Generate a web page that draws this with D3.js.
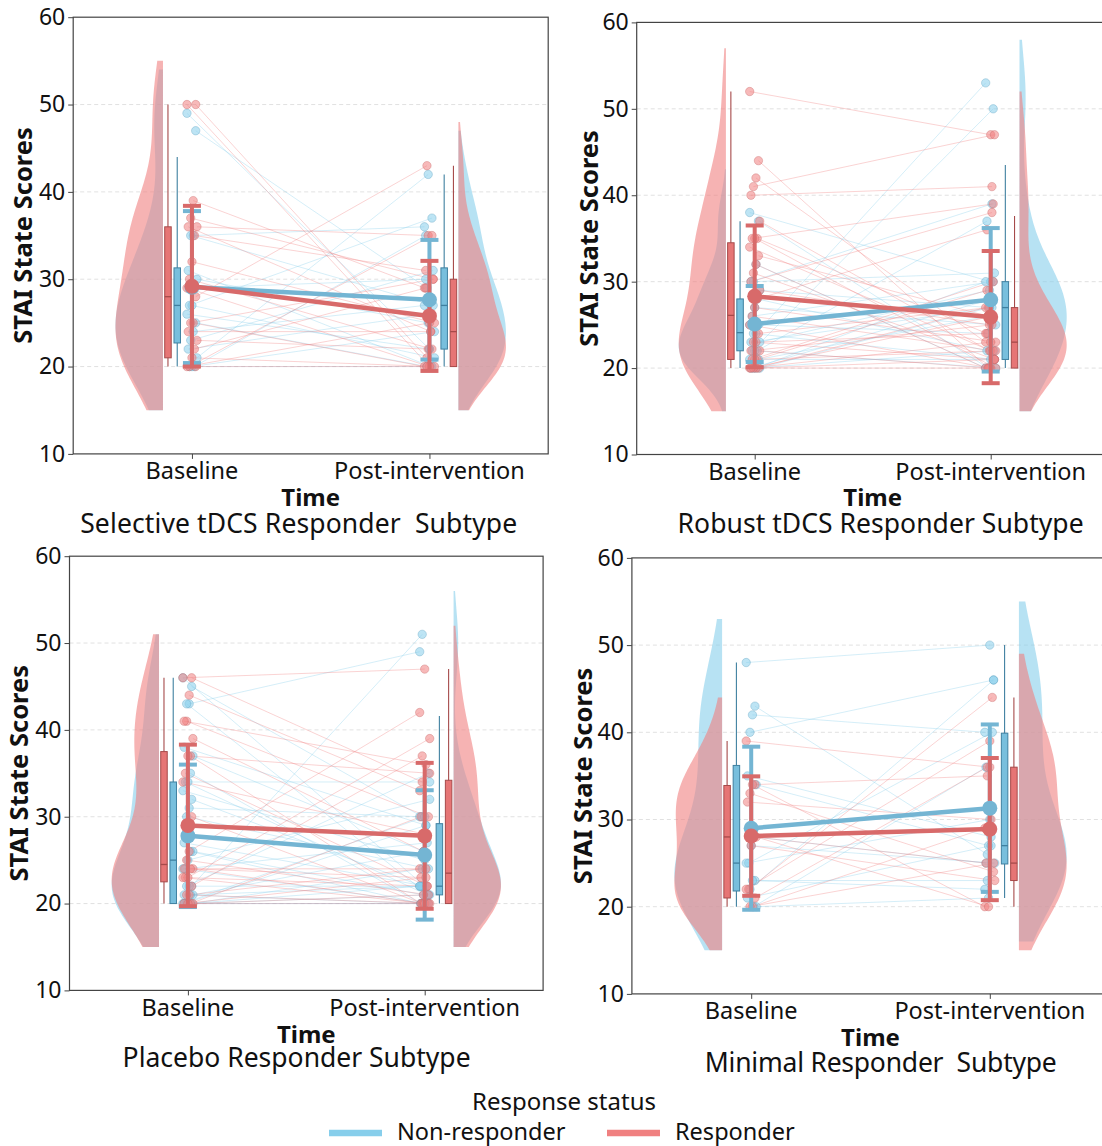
<!DOCTYPE html>
<html>
<head>
<meta charset="utf-8">
<script src="https://cdn.jsdelivr.net/npm/d3@7"></script>
<style>
  body { margin: 0; background: #fff; }
  text { font-family: "Noto Sans", sans-serif; fill: #111; }
</style>
</head>
<body>
<svg id="chart" width="1102" height="1146"></svg>
<script>
// ---- data ----
var timepoints = ["Baseline", "Post-intervention"];
var groups = ["Non-responder", "Responder"];
var panelTitles = ["Selective tDCS Responder  Subtype", "Robust tDCS Responder Subtype",
                   "Placebo Responder Subtype", "Minimal Responder  Subtype"];
var yTicks = [10, 20, 30, 40, 50, 60];
var gridTicks = [20, 30, 40, 50];

// subject scores (baseline / post), index i is the same subject
var selNonBase  = [49, 47, 35, 35, 31, 30, 29, 27, 27, 26, 25, 24, 23, 22, 21, 20, 20, 20];
var selNonPost  = [22, 29, 36, 27, 20, 25, 30, 21, 37, 22, 20, 27, 31, 26, 42, 35, 24, 20];
var selRespBase = [50, 50, 39, 37, 36, 36, 35, 32, 30, 29, 28, 25, 25, 24, 23, 22, 21, 20, 20, 20];
var selRespPost = [20, 21, 29, 30, 24, 35, 31, 25, 22, 20, 43, 20, 30, 24, 22, 29, 20, 35, 25, 20];

var robNonBase  = [38, 37, 32, 30, 30, 29, 28, 27, 26, 25, 25, 24, 24, 23, 23, 22, 22, 22, 21, 21, 20, 20, 20, 20];
var robNonPost  = [30, 20, 20, 31, 39, 27, 22, 25, 30, 28, 24, 53, 21, 27, 29, 37, 20, 50, 21, 26, 30, 22, 28, 27];
var robRespBase = [52, 44, 42, 41, 40, 37, 35, 35, 35, 34, 33, 32, 31, 30, 29, 28, 27, 26, 25, 24, 23, 23, 22, 22,
                   21, 21, 21, 20, 20, 20, 20, 20];
var robRespPost = [47, 20, 23, 47, 41, 22, 24, 20, 39, 22, 26, 20, 21, 38, 25, 36, 23, 22, 20, 27, 24, 21, 25, 20,
                   29, 22, 30, 23, 20, 27, 21, 26];

var plaNonBase  = [46, 45, 43, 43, 38, 37, 35, 34, 34, 33, 32, 31, 30, 27, 26, 26, 25, 24, 24, 22, 22, 22, 21, 21,
                   21, 20, 20, 20, 20, 20, 20, 20];
var plaNonPost  = [22, 30, 49, 21, 29, 26, 20, 34, 21, 25, 22, 30, 24, 22, 21, 20, 32, 27, 20, 51, 22, 35, 20, 26,
                   22, 21, 20, 30, 24, 22, 20, 29];
var plaRespBase = [46, 46, 44, 41, 41, 39, 37, 37, 35, 34, 30, 26, 25, 24, 24, 24, 23, 23, 23, 22, 21, 21, 20, 20, 20, 20];
var plaRespPost = [47, 34, 33, 30, 36, 26, 20, 35, 22, 28, 20, 42, 21, 24, 20, 23, 39, 22, 20, 37, 24, 20, 23, 21, 30, 20];

var minNonBase  = [48, 43, 42, 40, 35, 34, 28, 27, 25, 25, 23, 23, 22, 21, 20, 20];
var minNonPost  = [50, 26, 40, 46, 28, 27, 25, 25, 40, 30, 23, 22, 46, 27, 21, 36];
var minRespBase = [39, 34, 34, 33, 32, 28, 28, 27, 22, 22, 21, 20, 20];
var minRespPost = [36, 35, 20, 24, 30, 20, 25, 23, 44, 39, 36, 29, 25];

// box summaries per time: [q1, median, q3, whiskerLow, whiskerHigh]
var selNonBox  = [[22.7, 27, 31.3, 20, 44], [22, 27, 31.3, 20, 42]];
var selRespBox = [[21, 28, 36, 20, 50], [20, 24, 30, 20, 43]];
var robNonBox  = [[22, 24.1, 28, 20, 37], [21, 27, 30, 20, 43.5]];
var robRespBox = [[21, 26.1, 34.5, 20, 52], [20, 23, 27, 20, 37.6]];
var plaNonBox  = [[20, 25, 34, 20, 46], [21, 22, 29.2, 20, 41.6]];
var plaRespBox = [[22.5, 24.5, 37.5, 20, 46], [20, 23.5, 34.2, 20, 47]];
var minNonBox  = [[21.8, 25, 36.2, 20, 48], [24.9, 27, 39.9, 21, 50]];
var minRespBox = [[21, 28, 33.9, 20, 39], [23, 25, 36, 20, 44]];

// group means and standard deviations per time
var selNonMean = [29.1, 27.65], selNonSD = [8.7, 6.85];
var selRespMean = [29.2, 25.8], selRespSD = [9.2, 6.3];
var robNonMean = [25.1, 27.9], robNonSD = [4.4, 8.3];
var robRespMean = [28.3, 25.9], robRespSD = [8.2, 7.65];
var plaNonMean = [27.8, 25.6], plaNonSD = [8.2, 7.45];
var plaRespMean = [29.0, 27.8], plaRespSD = [9.3, 8.4];
var minNonMean = [29.0, 31.3], minNonSD = [9.35, 9.6];
var minRespMean = [28.1, 28.9], minRespSD = [6.85, 8.15];

var panels = [
  { non: [selNonBase, selNonPost, selNonBox, selNonMean, selNonSD],
    resp: [selRespBase, selRespPost, selRespBox, selRespMean, selRespSD] },
  { non: [robNonBase, robNonPost, robNonBox, robNonMean, robNonSD],
    resp: [robRespBase, robRespPost, robRespBox, robRespMean, robRespSD] },
  { non: [plaNonBase, plaNonPost, plaNonBox, plaNonMean, plaNonSD],
    resp: [plaRespBase, plaRespPost, plaRespBox, plaRespMean, plaRespSD] },
  { non: [minNonBase, minNonPost, minNonBox, minNonMean, minNonSD],
    resp: [minRespBase, minRespPost, minRespBox, minRespMean, minRespSD] }
];

// ---- layout ----
var layout = [
  { left: 73.2, top: 17.2, bottom: 453.9, unit: 237.5, ylabX: 22, tickY: 470, timeY: 496, titleX: 298.7, titleY: 523, titleW: 437 },
  { left: 636.7, top: 22.4, bottom: 454.5, unit: 236, ylabX: 588, tickY: 471, timeY: 496.5, titleX: 880.6, titleY: 522.7, titleW: 406 },
  { left: 69.5, top: 556.2, bottom: 990.4, unit: 236.8, ylabX: 18, tickY: 1007, timeY: 1033, titleX: 296.6, titleY: 1056.5, titleW: 348 },
  { left: 631.9, top: 557.9, bottom: 993.9, unit: 238.6, ylabX: 582, tickY: 1010, timeY: 1036.5, titleX: 880.8, titleY: 1061.7, titleW: 352 }
];

var style = {
  non:  { fill: "#87ceeb", dot: "#5c9fbf", box: "#78bfdd", boxEdge: "#3f80a0", mean: "#74b5d3" },
  resp: { fill: "#f08080", dot: "#c46262", box: "#e67575", boxEdge: "#a64a4a", mean: "#d86a6a" }
};

var svg = d3.select("#chart");

// gaussian kde with scott bandwidth, on [min-5, max+5]
function kde(values) {
  var n = values.length;
  var bw = d3.deviation(values) * Math.pow(n, -0.2);
  var lo = d3.min(values) - 5, hi = d3.max(values) + 5;
  return d3.range(0, 121).map(function(i) {
    var y = lo + (hi - lo) * i / 120;
    return [y, d3.mean(values, function(v) { return Math.exp(-0.5 * Math.pow((y - v) / bw, 2)); })];
  });
}

function jitter(i, t) {
  return (((i * 7 + t * 4) % 9) - 4) * 1.25;
}

panels.forEach(function(p, k) {
  var L = layout[k];
  var x = d3.scaleLinear().domain([-0.5, 1.5]).range([L.left, L.left + 2 * L.unit]);
  var y = d3.scaleLinear().domain([10, 60]).range([L.bottom, L.top]);
  var u = L.unit;
  var g = svg.append("g");

  g.selectAll(".grid").data(gridTicks).enter().append("line")
    .attr("x1", x(-0.5)).attr("x2", x(1.5))
    .attr("y1", function(d) { return y(d); }).attr("y2", function(d) { return y(d); })
    .attr("stroke", "#d9d9d9").attr("stroke-width", 0.8).attr("stroke-dasharray", "4,3");

  var keys = ["non", "resp"];

  // half violins
  keys.forEach(function(key) {
    var s = p[key];
    [0, 1].forEach(function(t) {
      var dens = kde(s[t]);
      var mx = d3.max(dens, function(d) { return d[1]; });
      var side = t === 0 ? -1 : 1;
      var edge = x(t) + side * 0.122 * u;
      var area = d3.area()
        .y(function(d) { return y(d[0]); })
        .x0(edge)
        .x1(function(d) { return edge + side * d[1] / mx * 0.2 * u; });
      g.append("path").datum(dens).attr("d", area)
        .attr("fill", style[key].fill).attr("fill-opacity", 0.6);
    });
  });

  // subject lines
  keys.forEach(function(key) {
    var s = p[key];
    g.selectAll(".sub-" + key).data(s[0]).enter().append("line")
      .attr("x1", function(d, i) { return x(0) + jitter(i, 0); })
      .attr("x2", function(d, i) { return x(1) + jitter(i, 1); })
      .attr("y1", function(d) { return y(d); })
      .attr("y2", function(d, i) { return y(s[1][i]); })
      .attr("stroke", style[key].fill).attr("stroke-width", 1).attr("stroke-opacity", 0.35);
  });

  // points
  keys.forEach(function(key) {
    var s = p[key];
    [0, 1].forEach(function(t) {
      g.selectAll(".pt-" + key + t).data(s[t]).enter().append("circle")
        .attr("cx", function(d, i) { return x(t) + jitter(i, t); })
        .attr("cy", function(d) { return y(d); })
        .attr("r", 4.2)
        .attr("fill", style[key].fill).attr("fill-opacity", 0.55)
        .attr("stroke", style[key].dot).attr("stroke-opacity", 0.45).attr("stroke-width", 0.8);
    });
  });

  // boxes
  keys.forEach(function(key) {
    var s = p[key];
    [0, 1].forEach(function(t) {
      var b = s[2][t];
      var side = t === 0 ? -1 : 1;
      var cx = x(t) + side * (key === "resp" ? 0.101 : 0.062) * u;
      var w = 6.5;
      g.append("line").attr("x1", cx).attr("x2", cx)
        .attr("y1", y(b[3])).attr("y2", y(b[4]))
        .attr("stroke", style[key].boxEdge).attr("stroke-width", 1.1);
      g.append("rect").attr("x", cx - w / 2).attr("width", w)
        .attr("y", y(b[2])).attr("height", y(b[0]) - y(b[2]))
        .attr("fill", style[key].box).attr("stroke", style[key].boxEdge).attr("stroke-width", 1);
      g.append("line").attr("x1", cx - w / 2).attr("x2", cx + w / 2)
        .attr("y1", y(b[1])).attr("y2", y(b[1]))
        .attr("stroke", style[key].boxEdge).attr("stroke-width", 1.3);
    });
  });

  // error bars (mean +/- sd)
  keys.forEach(function(key) {
    var s = p[key];
    [0, 1].forEach(function(t) {
      var m = s[3][t], sd = s[4][t], cx = x(t);
      var c = style[key].mean;
      g.append("line").attr("x1", cx).attr("x2", cx)
        .attr("y1", y(m - sd)).attr("y2", y(m + sd))
        .attr("stroke", c).attr("stroke-width", 4);
      [m - sd, m + sd].forEach(function(v) {
        g.append("line").attr("x1", cx - 9).attr("x2", cx + 9)
          .attr("y1", y(v)).attr("y2", y(v))
          .attr("stroke", c).attr("stroke-width", 4);
      });
    });
  });

  // mean lines and markers
  keys.forEach(function(key) {
    var s = p[key];
    var c = style[key].mean;
    g.append("line").attr("x1", x(0)).attr("x2", x(1))
      .attr("y1", y(s[3][0])).attr("y2", y(s[3][1]))
      .attr("stroke", c).attr("stroke-width", 4.5);
    g.selectAll(".mean-" + key).data(s[3]).enter().append("circle")
      .attr("cx", function(d, t) { return x(t); })
      .attr("cy", function(d) { return y(d); })
      .attr("r", 7.5).attr("fill", c);
  });

  // axes frame
  g.append("rect").attr("x", x(-0.5)).attr("y", L.top)
    .attr("width", 2 * u).attr("height", L.bottom - L.top)
    .attr("fill", "none").attr("stroke", "#444").attr("stroke-width", 1.2);

  var yAxis = d3.axisLeft(y).tickValues(yTicks).tickSize(5).tickPadding(3).tickFormat(d3.format("d"));
  var ya = g.append("g").attr("transform", "translate(" + x(-0.5) + ",0)").call(yAxis);
  ya.select(".domain").remove();
  ya.selectAll("line").attr("stroke", "#444");
  ya.selectAll("text").style("font-size", "23px").attr("fill", "#111");

  var xa = g.append("g").attr("transform", "translate(0," + L.bottom + ")")
    .call(d3.axisBottom(x).tickValues([0, 1]).tickSize(5).tickFormat(function(d) { return timepoints[d]; }));
  xa.select(".domain").remove();
  xa.selectAll("line").attr("stroke", "#444");
  xa.selectAll("text").remove();
  g.selectAll(".xt").data(timepoints).enter().append("text")
    .attr("x", function(d, i) { return x(i); }).attr("y", L.tickY)
    .attr("text-anchor", "middle").attr("dominant-baseline", "central")
    .style("font-size", "23.5px").text(function(d) { return d; });

  g.append("text").attr("x", x(0.5)).attr("y", L.timeY)
    .attr("text-anchor", "middle").attr("dominant-baseline", "central")
    .style("font-size", "24px").style("font-weight", "bold").text("Time");

  g.append("text")
    .attr("transform", "translate(" + L.ylabX + "," + (L.top + L.bottom) / 2 + ") rotate(-90)")
    .attr("text-anchor", "middle").attr("dominant-baseline", "central")
    .style("font-size", "25.5px").style("font-weight", "bold").text("STAI State Scores");

  g.append("text").attr("x", L.titleX).attr("y", L.titleY)
    .attr("text-anchor", "middle").attr("dominant-baseline", "central")
    .style("font-size", "26.5px").style("white-space", "pre")
    .attr("textLength", L.titleW).attr("lengthAdjust", "spacing")
    .text(panelTitles[k]);
});

// legend
var lg = svg.append("g");
lg.append("text").attr("x", 564).attr("y", 1100).attr("text-anchor", "middle")
  .attr("dominant-baseline", "central").style("font-size", "24px").text("Response status");
var legendX = [[329, 397], [607, 675]];
groups.forEach(function(name, i) {
  var c = i === 0 ? style.non.fill : style.resp.fill;
  lg.append("line").attr("x1", legendX[i][0]).attr("x2", legendX[i][0] + 53)
    .attr("y1", 1133).attr("y2", 1133).attr("stroke", c).attr("stroke-width", 6.5);
  lg.append("text").attr("x", legendX[i][1]).attr("y", 1131)
    .attr("dominant-baseline", "central").style("font-size", "23.5px").text(name);
});
</script>
</body>
</html>
